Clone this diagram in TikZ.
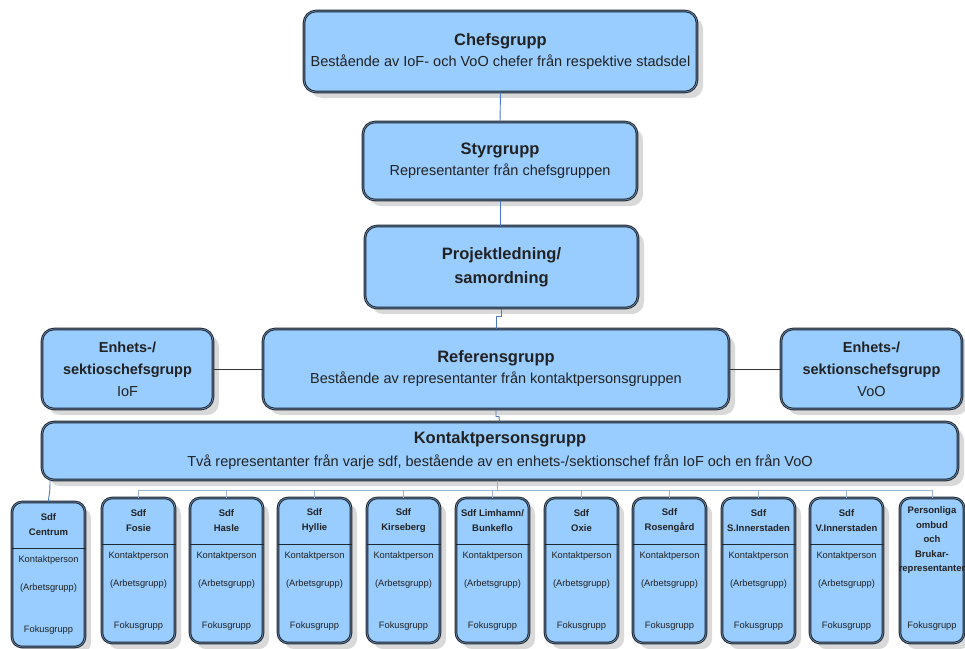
\documentclass[tikz,border=0pt]{standalone}
\usepackage{fontspec}
\setmainfont{Liberation Sans}
\usetikzlibrary{shadows,calc}
\definecolor{boxfill}{HTML}{99CCFF}
\definecolor{boxline}{HTML}{1E2833}
\definecolor{boxinner}{HTML}{7393B5}
\definecolor{conn}{HTML}{4A78C8}
\definecolor{busc}{HTML}{98B2D6}
\definecolor{shadowc}{HTML}{D9D9D9}
\definecolor{textc}{HTML}{222222}
\newcommand{\ttl}[1]{{\fontsize{16.5}{21}\selectfont\bfseries #1}}
\begin{document}
\begin{tikzpicture}[x=1pt,y=-1pt,
  box/.style={draw=boxline, double=boxinner, double distance=0.6pt, line width=1pt,
    fill=boxfill, rounded corners=12pt, align=center, text=textc, inner sep=0pt,
    drop shadow={shadow xshift=6pt, shadow yshift=-6pt, fill=shadowc, opacity=1}},
  bigbox/.style={box, font=\fontsize{14.5}{21}\selectfont},
  smallbox/.style={box, rounded corners=10pt, minimum width=73pt, minimum height=145pt},
  stitle/.style={font=\fontsize{9.5}{14.5}\selectfont\bfseries, align=center, text=textc, inner sep=0pt},
  sbody/.style={font=\fontsize{9.3}{11}\selectfont, text=textc, inner sep=0pt},
  vconn/.style={draw=conn, line width=0.9pt},
  hconn/.style={draw=black!80, line width=1pt},
  busline/.style={draw=busc, line width=1pt}
]
\useasboundingbox (0,0) rectangle (965,648);

% main boxes
\node[bigbox, minimum width=393pt, minimum height=81pt] (chef) at (500.5,51.5)
  {\ttl{Chefsgrupp}\\Bestående av IoF- och VoO chefer från respektive stadsdel};
\node[bigbox, minimum width=274pt, minimum height=78pt] (styr) at (500,161)
  {\ttl{Styrgrupp}\\Representanter från chefsgruppen};
\node[bigbox, minimum width=273pt, minimum height=82pt, font=\fontsize{16.5}{24}\selectfont\bfseries] (proj) at (501.5,267)
  {Projektledning/\\samordning};
\node[bigbox, minimum width=466pt, minimum height=80pt] (ref) at (496,369)
  {\ttl{Referensgrupp}\\Bestående av representanter från kontaktpersonsgruppen};
\node[bigbox, minimum width=171pt, minimum height=80pt, font=\fontsize{14.5}{22}\selectfont] (iof) at (127.5,369)
  {\textbf{Enhets-/}\\\textbf{sektioschefsgrupp}\\IoF};
\node[bigbox, minimum width=181pt, minimum height=80pt, font=\fontsize{14.5}{22}\selectfont] (voo) at (871.5,369)
  {\textbf{Enhets-/}\\\textbf{sektionschefsgrupp}\\VoO};
\node[bigbox, minimum width=916pt, minimum height=58pt, font=\fontsize{14.5}{23}\selectfont] (kon) at (500,451)
  {\ttl{Kontaktpersonsgrupp}\\Två representanter från varje sdf, bestående av en enhets-/sektionschef från IoF och en från VoO};

% main connectors
\draw[vconn] (chef.south) -- (styr.north);
\draw[vconn] (styr.south) -- (styr.south |- proj.north);
\coordinate (pj) at ($(proj.south)+(0,8)$);
\draw[vconn] (proj.south) -- (pj) -- ++(-5,0) -- (ref.north -| 496.5,0);
\draw[vconn] (ref.south) -- ++(0,7) -- ++(3,0) -- (kon.north -| 499.5,0);
\draw[hconn] (iof.east) -- (ref.west);
\draw[hconn] (ref.east) -- (voo.west);

% bottom boxes
\coordinate (bus) at (497,490);
\foreach \i/\x/\t in {2/102/{Sdf\\Fosie}, 3/190/{Sdf\\Hasle}, 4/278/{Sdf\\Hyllie},
  5/367/{Sdf\\Kirseberg}, 6/456/{Sdf Limhamn/\\Bunkeflo}, 7/545/{Sdf\\Oxie},
  8/633/{Sdf\\Rosengård}, 9/722/{Sdf\\S.Innerstaden}, 10/810/{Sdf\\V.Innerstaden}}{
  \node[smallbox] (s\i) at (\x+36.5,570.5) {};
  \draw[boxline, line width=1.8pt] ($(s\i.north west)+(0,47)$) coordinate (d\i) -- (d\i -| s\i.east);
  \node[stitle] (s\i t) at ($(s\i.north)+(0,23)$) {\t};
  \node[sbody] (s\i k) at ($(s\i.north)+(0,59)$) {Kontaktperson};
  \node[sbody] (s\i a) at ($(s\i.north)+(0,87)$) {(Arbetsgrupp)};
  \node[sbody] (s\i f) at ($(s\i.north)+(0,129)$) {Fokusgrupp};
  \draw[busline] (kon.south -| bus) -- (bus) -| (s\i.north);
}
% Centrum
\node[smallbox] (s1) at (48.5,574.5) {};
\draw[boxline, line width=1.8pt] ($(s1.north west)+(0,47)$) coordinate (d1) -- (d1 -| s1.east);
\node[stitle] (s1t) at ($(s1.north)+(0,23)$) {Sdf\\Centrum};
\node[sbody] (s1k) at ($(s1.north)+(0,59)$) {Kontaktperson};
\node[sbody] (s1a) at ($(s1.north)+(0,87)$) {(Arbetsgrupp)};
\node[sbody] (s1f) at ($(s1.north)+(0,129)$) {Fokusgrupp};
\draw[vconn] (kon.south -| 50,0) .. controls (50,497) and (48.5,495) .. (s1.north);
% Personliga ombud
\node[smallbox, minimum width=64pt] (s11) at (932,570.5) {};
\node[stitle, anchor=north] (s11t) at ($(s11.north)+(0,9)$) {Personliga\\ombud\\och\\Brukar-\\representanter};
\node[sbody] (s11f) at ($(s11.north)+(0,129)$) {Fokusgrupp};
\draw[busline] (bus) -| (s11.north);
\end{tikzpicture}
\end{document}
